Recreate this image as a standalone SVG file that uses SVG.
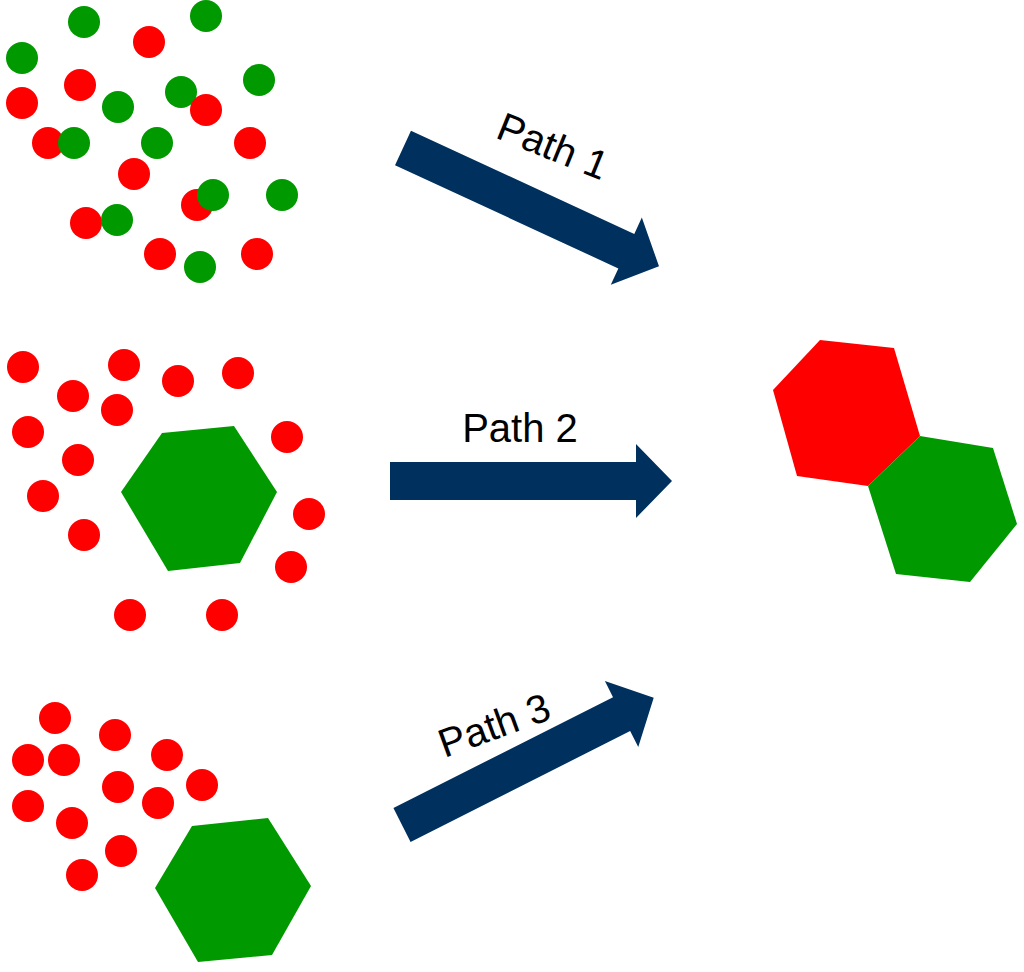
<svg xmlns="http://www.w3.org/2000/svg" width="1024" height="972" viewBox="0 0 1024 972">
<style>.r{fill:#ff0000}.g{fill:#009900}.a{fill:#00315e}text{font-family:"Liberation Sans",Arial,sans-serif;font-size:40px;fill:#000}</style>
<defs><path id="arr" d="M0,-19 L246,-19 L246,-37 L282,0 L246,37 L246,19 L0,19 Z"/></defs>
<rect width="1024" height="972" fill="#fff"/>
<g id="cluster1">
<g class="r"><circle cx="149" cy="42" r="16"/><circle cx="80" cy="85" r="16"/><circle cx="22" cy="103" r="16"/><circle cx="48" cy="143" r="16"/><circle cx="250" cy="143" r="16"/><circle cx="134" cy="174" r="16"/><circle cx="197" cy="205" r="16"/><circle cx="86" cy="223" r="16"/><circle cx="160" cy="254" r="16"/><circle cx="257" cy="254" r="16"/></g>
<g class="g"><circle cx="84" cy="22" r="16"/><circle cx="206" cy="16" r="16"/><circle cx="22" cy="58" r="16"/><circle cx="259" cy="80" r="16"/><circle cx="181" cy="92" r="16"/><circle cx="118" cy="107" r="16"/><circle cx="157" cy="143" r="16"/><circle cx="74" cy="143" r="16"/><circle cx="213" cy="195" r="16"/><circle cx="282" cy="195" r="16"/><circle cx="117" cy="220" r="16"/><circle cx="200" cy="267" r="16"/></g>
<circle class="r" cx="206" cy="110" r="16"/>
</g>
<g id="cluster2">
<g class="r"><circle cx="23" cy="367" r="16"/><circle cx="124" cy="365" r="16"/><circle cx="178" cy="381" r="16"/><circle cx="238" cy="373" r="16"/><circle cx="73" cy="396" r="16"/><circle cx="117" cy="410" r="16"/><circle cx="28" cy="432" r="16"/><circle cx="287" cy="437" r="16"/><circle cx="78" cy="460" r="16"/><circle cx="43" cy="496" r="16"/><circle cx="309" cy="514" r="16"/><circle cx="84" cy="535" r="16"/><circle cx="291" cy="567" r="16"/><circle cx="130" cy="615" r="16"/><circle cx="222" cy="615" r="16"/></g>
<polygon class="g" points="121,492 162,433 234,426 277,492 240,563 168,571"/>
</g>
<g id="cluster3">
<g class="r"><circle cx="55" cy="718" r="16"/><circle cx="115" cy="735" r="16"/><circle cx="167" cy="755" r="16"/><circle cx="28" cy="760" r="16"/><circle cx="64" cy="760" r="16"/><circle cx="202" cy="785" r="16"/><circle cx="118" cy="787" r="16"/><circle cx="158" cy="803" r="16"/><circle cx="28" cy="806" r="16"/><circle cx="72" cy="823" r="16"/><circle cx="121" cy="851" r="16"/><circle cx="82" cy="875" r="16"/></g>
<polygon class="g" points="155,888 192,826 268,818 311,886 272,955 198,962"/>
</g>
<g id="product">
<polygon class="r" points="773,390 820,340 894,348 920,436 868,486 797,476"/>
<polygon class="g" points="868,486 920,436 993,448 1017,524 970,582 896,574"/>
</g>
<g id="connectors" class="a">
<use href="#arr" transform="translate(403,148) rotate(24.8)"/>
<use href="#arr" transform="translate(390,481)"/>
<use href="#arr" transform="translate(402,825) rotate(-26.8)"/>
</g>
<g id="labels">
<text transform="translate(553,146) rotate(22)" text-anchor="middle" dy="14">Path 1</text>
<text x="520" y="442" text-anchor="middle">Path 2</text>
<text transform="translate(494,725) rotate(-20)" text-anchor="middle" dy="14">Path 3</text>
</g>
</svg>
